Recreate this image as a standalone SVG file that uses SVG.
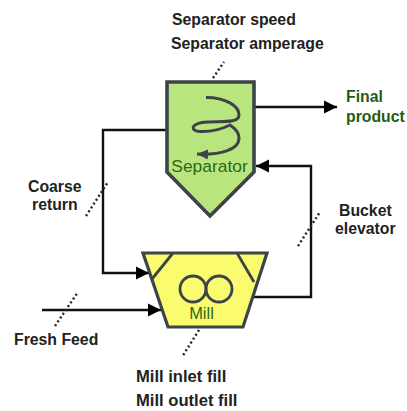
<svg xmlns="http://www.w3.org/2000/svg" width="407" height="411" viewBox="0 0 407 411">
<style>
.lbl{font:bold 15.8px "Liberation Sans",Arial,sans-serif;fill:#222}
.big{font-size:16.6px}
.grn{font:bold 15.8px "Liberation Sans",Arial,sans-serif;fill:#1f5c14}
.name{font:17.4px "Liberation Sans",Arial,sans-serif;fill:#2b6a12;text-anchor:middle}
.ln{fill:none;stroke:#111;stroke-width:2.4}
.dot{fill:none;stroke:#222;stroke-width:2.4;stroke-dasharray:2 2.6}
.eq{stroke:#3c4448;fill:none}
</style>
<defs>
<marker id="ah" markerUnits="userSpaceOnUse" markerWidth="14" markerHeight="14" refX="13" refY="7" orient="auto"><path d="M0,0.5L13,7L0,13.500z" fill="#000"/></marker>
<marker id="sp" markerUnits="userSpaceOnUse" markerWidth="12" markerHeight="12" refX="11" refY="5" orient="auto"><path d="M0,0L11,5L0,10z" fill="#3c4448"/></marker>
</defs>
<rect width="407" height="411" fill="#fff"/>
<g id="connectors">
<path class="ln" d="M166,130H103V273H149" marker-end="url(#ah)"/>
<path class="ln" d="M42,310H161" marker-end="url(#ah)"/>
<path class="ln" d="M254,297H311V166H256" marker-end="url(#ah)"/>
<path class="ln" d="M255,107H337" marker-end="url(#ah)"/>
<path class="dot" d="M213,78L224,62"/>
<path class="dot" d="M86,216L108,182"/>
<path class="dot" d="M298,246L320,212"/>
<path class="dot" d="M55,326L78,292"/>
<path class="dot" d="M199,330L182,357"/>
</g>
<g id="separator">
<path d="M167,82H254V172L210,216L167,172Z" fill="#b9e57f" stroke="#3c4448" stroke-width="3.6"/>
<path class="eq" stroke-width="3" d="M206,97.500C226,97.500 239,106 239,115C239,125 215,120 202,122.500C190,125 191,131 200,131.500C212,132 224,128 230,125C236,129 239,133 239,138C239,150 220,155 197,154" marker-end="url(#sp)"/>
<text class="name" x="209.500" y="172">Separator</text>
</g>
<g id="mill">
<path d="M143,253H267L243,327H168Z" fill="#fbfb70" stroke="#3c4448" stroke-width="3.2"/>
<path class="eq" stroke-width="2.8" d="M173,253L152,279M237,253L254,282"/>
<circle class="eq" stroke-width="2.8" cx="193" cy="289" r="13"/>
<circle class="eq" stroke-width="2.8" cx="219" cy="289" r="13"/>
<text class="name" x="201.500" y="319" style="font-size:16.5px">Mill</text>
</g>
<g id="labels">
<text class="lbl" x="172" y="25">Separator speed</text>
<text class="lbl" x="171" y="49">Separator amperage</text>
<text class="grn" x="346" y="102">Final</text>
<text class="grn" x="346" y="121.500">product</text>
<text class="lbl" x="28" y="192">Coarse</text>
<text class="lbl" x="32" y="210">return</text>
<text class="lbl" x="339" y="216">Bucket</text>
<text class="lbl" x="335" y="234">elevator</text>
<text class="lbl" x="14" y="345">Fresh Feed</text>
<text class="lbl big" x="136" y="382">Mill inlet fill</text>
<text class="lbl big" x="136" y="406">Mill outlet fill</text>
</g>
</svg>
